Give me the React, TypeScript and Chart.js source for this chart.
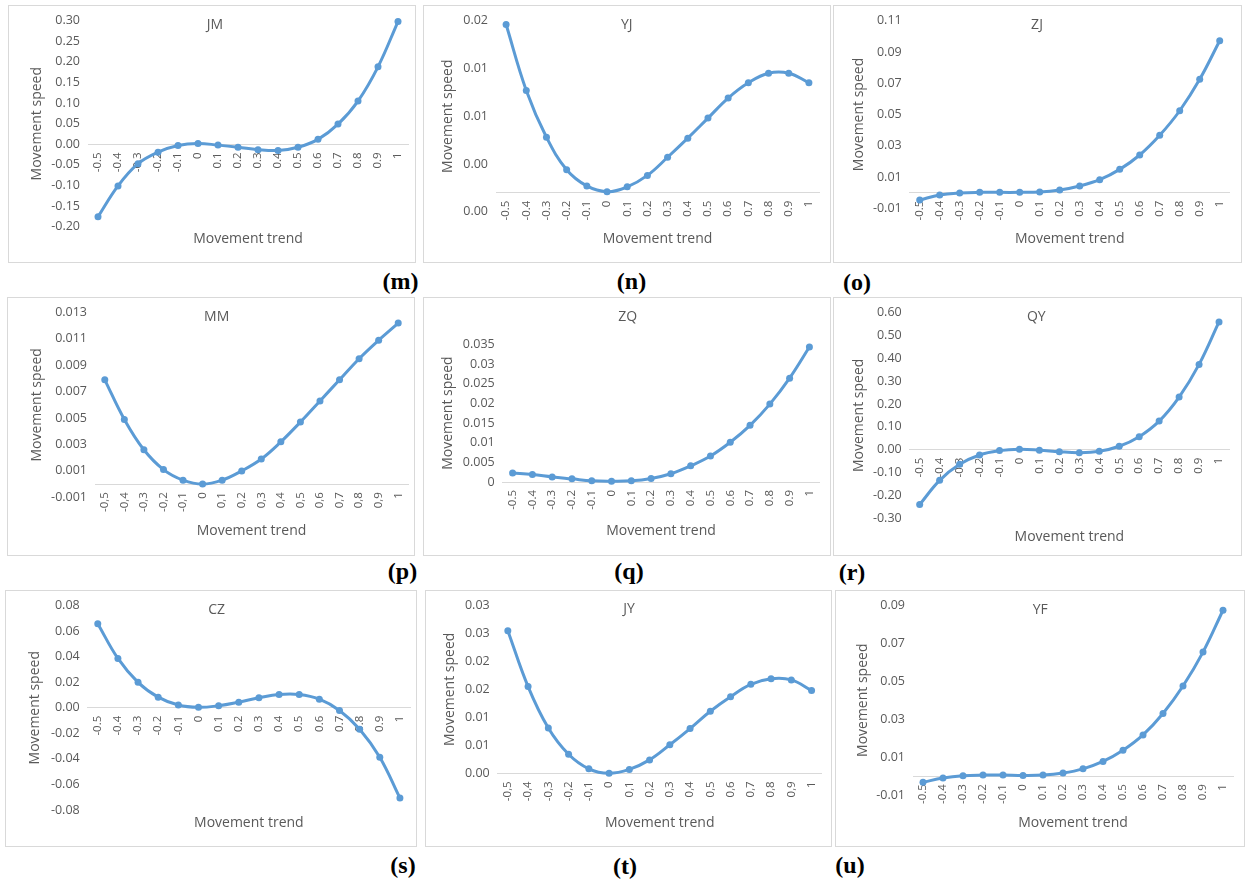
import React, { useEffect, useRef } from "react";
import { Chart, registerables } from "chart.js";

Chart.register(...registerables);

// ---------- data ----------
const trendLabels = ["-0.5", "-0.4", "-0.3", "-0.2", "-0.1", "0", "0.1", "0.2", "0.3", "0.4", "0.5", "0.6", "0.7", "0.8", "0.9", "1"];
// MM and JY panels were exported with a comma decimal separator
const trendLabelsComma = ["-0,5", "-0,4", "-0,3", "-0,2", "-0,1", "0", "0,1", "0,2", "0,3", "0,4", "0,5", "0,6", "0,7", "0,8", "0,9", "1"];

const jmSpeed = [-0.176, -0.101, -0.047, -0.019, -0.003, 0.002, -0.002, -0.007, -0.013, -0.015, -0.007, 0.012, 0.049, 0.105, 0.188, 0.298];
const yjSpeed = [0.0176, 0.0107, 0.0058, 0.0024, 0.0007, 0.0001, 0.0006, 0.0018, 0.0037, 0.0057, 0.0078, 0.0099, 0.0115, 0.0125, 0.0125, 0.0115];
const zjSpeed = [-0.0047, -0.0015, -0.0002, 0.0002, 0.0002, 0.0002, 0.0004, 0.0017, 0.0043, 0.0083, 0.0149, 0.0241, 0.0367, 0.0524, 0.0725, 0.0972];
const mmSpeed = [0.0079, 0.0049, 0.0026, 0.0011, 0.0003, 0.0, 0.0003, 0.001, 0.0019, 0.0032, 0.0047, 0.0063, 0.0079, 0.0095, 0.0109, 0.0122];
const zqSpeed = [0.0023, 0.0019, 0.0013, 0.0008, 0.0003, 0.0002, 0.0003, 0.0009, 0.0021, 0.0041, 0.0066, 0.0101, 0.0144, 0.0198, 0.0264, 0.0343];
const qySpeed = [-0.24, -0.134, -0.064, -0.023, -0.004, 0.002, -0.002, -0.009, -0.013, -0.007, 0.015, 0.057, 0.125, 0.23, 0.373, 0.559];
const czSpeed = [0.0658, 0.0386, 0.0199, 0.0083, 0.0021, 0.0003, 0.0016, 0.0044, 0.0078, 0.0104, 0.0104, 0.0067, -0.0021, -0.0168, -0.0388, -0.0707];
const jySpeed = [0.0255, 0.0155, 0.0081, 0.0034, 0.0008, 0.0, 0.0007, 0.0024, 0.0051, 0.008, 0.0111, 0.0137, 0.0159, 0.0169, 0.0167, 0.0148];
const yfSpeed = [-0.0033, -0.001, 0.0002, 0.0005, 0.0005, 0.0003, 0.0005, 0.0016, 0.0038, 0.0077, 0.0136, 0.0217, 0.033, 0.0475, 0.0654, 0.0875];

// y tick labels, bottom to top
const jmYTicks = ["-0.20", "-0.15", "-0.10", "-0.05", "0.00", "0.05", "0.10", "0.15", "0.20", "0.25", "0.30"];
const yjYTicks = ["0.00", "0.00", "0.01", "0.01", "0.02"];
const zjYTicks = ["-0.01", "0.01", "0.03", "0.05", "0.07", "0.09", "0.11"];
const mmYTicks = ["-0.001", "0.001", "0.003", "0.005", "0.007", "0.009", "0.011", "0.013"];
const zqYTicks = ["0", "0.005", "0.01", "0.015", "0.02", "0.025", "0.03", "0.035"];
const qyYTicks = ["-0.30", "-0.20", "-0.10", "0.00", "0.10", "0.20", "0.30", "0.40", "0.50", "0.60"];
const czYTicks = ["-0.08", "-0.06", "-0.04", "-0.02", "0.00", "0.02", "0.04", "0.06", "0.08"];
const jyYTicks = ["0.00", "0.01", "0.01", "0.02", "0.02", "0.03", "0.03"];
const yfYTicks = ["-0.01", "0.01", "0.03", "0.05", "0.07", "0.09"];

// y ranges [min, max, step]
const jmRange = [-0.2, 0.3, 0.05];
const yjRange = [-0.002, 0.018, 0.005];
const zjRange = [-0.01, 0.11, 0.02];
const mmRange = [-0.001, 0.013, 0.002];
const zqRange = [0, 0.035, 0.005];
const qyRange = [-0.3, 0.6, 0.1];
const czRange = [-0.08, 0.08, 0.02];
const jyRange = [0, 0.03, 0.005];
const yfRange = [-0.01, 0.09, 0.02];

const panelTitles = ["JM", "YJ", "ZJ", "MM", "ZQ", "QY", "CZ", "JY", "YF"];
const panelLetters = ["(m)", "(n)", "(o)", "(p)", "(q)", "(r)", "(s)", "(t)", "(u)"];
const xAxisTitle = "Movement trend";
const yAxisTitle = "Movement speed";

// ---------- styling / layout ----------
const FONT = "'Open Sans', 'DejaVu Sans', sans-serif";
const TEXT = "#595959";
const BLUE = "#5B9BD5";
const AXIS = "#d9d9d9";
const TITLE_SIZE = 14;
const AXIS_TITLE_SIZE = 14;
const YTICK_SIZE = 12.5;
const XTICK_SIZE = 11.5;

type Layout = {
  box: number[]; // x, y, w, h (page px)
  plot: number[]; // left, top, right, bottom (page px)
  titleAt: number[];
  yTitleX: number;
  xTitleY: number;
  letterAt: number[];
};

const layouts: Layout[] = [
  { box: [8, 5, 408, 258], plot: [88, 20.7, 408, 226.7], titleAt: [215, 25], yTitleX: 36.7, xTitleY: 239.3, letterAt: [400.5, 281] },
  { box: [423, 5, 408, 258], plot: [496, 20.7, 819, 211.7], titleAt: [626.7, 25], yTitleX: 448.3, xTitleY: 239.3, letterAt: [631.5, 281] },
  { box: [833, 5, 409, 258], plot: [909.7, 20.7, 1229.7, 208.3], titleAt: [1037, 25], yTitleX: 858.7, xTitleY: 239.3, letterAt: [857, 282] },
  { box: [7, 297, 408, 259], plot: [95, 311.7, 408, 497.3], titleAt: [216.7, 316.7], yTitleX: 36.7, xTitleY: 530.7, letterAt: [402.5, 571] },
  { box: [423, 297, 408, 259], plot: [502.7, 344.3, 819.3, 482], titleAt: [627.7, 316.7], yTitleX: 447.7, xTitleY: 530.7, letterAt: [629, 571] },
  { box: [833, 297, 409, 259], plot: [909.7, 312.3, 1229, 518.3], titleAt: [1036.3, 316.7], yTitleX: 858.7, xTitleY: 536.7, letterAt: [852, 572] },
  { box: [5, 590, 412, 257], plot: [87.7, 604, 410, 810], titleAt: [216.7, 608.3], yTitleX: 35, xTitleY: 822.7, letterAt: [403, 865] },
  { box: [425, 590, 407, 257], plot: [497.7, 605, 821.7, 773.3], titleAt: [629, 608.3], yTitleX: 450, xTitleY: 822.7, letterAt: [625, 866] },
  { box: [835, 590, 410, 257], plot: [913, 603.3, 1233, 795], titleAt: [1040.3, 608.3], yTitleX: 863, xTitleY: 822.7, letterAt: [850, 865] },
];

const seriesList = [jmSpeed, yjSpeed, zjSpeed, mmSpeed, zqSpeed, qySpeed, czSpeed, jySpeed, yfSpeed];
const tickList = [jmYTicks, yjYTicks, zjYTicks, mmYTicks, zqYTicks, qyYTicks, czYTicks, jyYTicks, yfYTicks];
const rangeList = [jmRange, yjRange, zjRange, mmRange, zqRange, qyRange, czRange, jyRange, yfRange];
const categoryList = [trendLabels, trendLabels, trendLabels, trendLabelsComma, trendLabels, trendLabels, trendLabels, trendLabelsComma, trendLabels];

function Panel({ idx }: { idx: number }) {
  const ref = useRef<HTMLCanvasElement | null>(null);
  const lay = layouts[idx];
  const [bx, by, W, H] = lay.box;

  useEffect(() => {
    if (!ref.current) return;
    const [pl, pt, pr, pb] = lay.plot;
    const cl = pl - bx, ct = pt - by, cr = pr - bx, cb = pb - by;
    const tx = lay.titleAt[0] - bx, ty = lay.titleAt[1] - by;
    const padRight = W - cr;
    const padLeft = 2 * tx - W + padRight;
    const yWidth = cl - padLeft;
    const lhT = TITLE_SIZE * 1.2;
    const titleTop = ty - lhT / 2;
    const titleBottom = ct - lhT - titleTop;
    const x2Height = H - cb;
    const lhA = AXIS_TITLE_SIZE * 1.2;
    const yTitlePad = lay.yTitleX - bx - padLeft - lhA / 2;
    const xTitlePad = H - (lay.xTitleY - by) - lhA / 2;
    const [yMin, yMax, yStep] = rangeList[idx];
    const yTicks = tickList[idx];

    const chart = new Chart(ref.current, {
      type: "line",
      data: {
        labels: categoryList[idx],
        datasets: [
          {
            data: seriesList[idx],
            borderColor: BLUE,
            backgroundColor: BLUE,
            borderWidth: 3,
            pointRadius: 3.5,
            pointBorderWidth: 0,
            pointBackgroundColor: BLUE,
            tension: 0.4,
            clip: false as any,
          },
        ],
      },
      options: {
        responsive: false,
        animation: false,
        layout: { padding: { left: padLeft, right: padRight, top: 0, bottom: 0 } },
        plugins: {
          legend: { display: false },
          tooltip: { enabled: false },
          title: {
            display: true,
            text: panelTitles[idx],
            color: TEXT,
            font: { family: FONT, size: TITLE_SIZE, weight: "normal" },
            padding: { top: titleTop, bottom: titleBottom },
          },
        },
        scales: {
          x: {
            type: "category",
            position: { y: 0 } as any,
            offset: true,
            grid: { display: false, drawTicks: false, tickLength: 0 },
            border: { display: true, color: AXIS, width: 1, z: -1 },
            ticks: {
              autoSkip: false,
              maxRotation: 90,
              minRotation: 90,
              padding: 8,
              color: TEXT,
              font: { family: FONT, size: XTICK_SIZE },
            },
            afterFit: (s: any) => {
              s.paddingLeft = 0;
              s.paddingRight = 0;
            },
          },
          x2: {
            type: "category",
            position: "bottom",
            offset: true,
            grid: { display: false, drawTicks: false, tickLength: 0 },
            border: { display: false },
            ticks: { display: false },
            title: {
              display: true,
              text: xAxisTitle,
              color: TEXT,
              font: { family: FONT, size: AXIS_TITLE_SIZE },
              padding: { top: 0, bottom: xTitlePad },
            },
            afterFit: (s: any) => {
              s.height = x2Height;
            },
          },
          y: {
            type: "linear",
            position: "left",
            min: yMin,
            max: yMax,
            grid: { display: false, drawTicks: false, tickLength: 0 },
            border: { display: false },
            ticks: {
              stepSize: yStep,
              autoSkip: false,
              padding: 8,
              color: TEXT,
              font: { family: FONT, size: YTICK_SIZE },
              callback: (_v: any, i: number) => (yTicks[i] !== undefined ? yTicks[i] : ""),
            },
            title: {
              display: true,
              text: yAxisTitle,
              color: TEXT,
              font: { family: FONT, size: AXIS_TITLE_SIZE },
              padding: { top: yTitlePad, bottom: 0 },
            },
            afterFit: (s: any) => {
              s.width = yWidth;
            },
          },
        },
      } as any,
    });
    return () => chart.destroy();
  }, [idx]);

  return (
    <div
      style={{
        position: "absolute",
        left: bx,
        top: by,
        width: W,
        height: H,
        boxShadow: `inset 0 0 0 1px ${AXIS}`,
      }}
    >
      <canvas ref={ref} width={W} height={H} style={{ display: "block", width: W, height: H }} />
    </div>
  );
}

export default function App() {
  return (
    <div style={{ position: "absolute", left: 0, top: 0, width: 1249, height: 884, background: "#fff", overflow: "hidden" }}>
      {layouts.map((_, i) => (
        <Panel key={i} idx={i} />
      ))}
      {layouts.map((l, i) => (
        <div
          key={"l" + i}
          style={{
            position: "absolute",
            left: l.letterAt[0],
            top: l.letterAt[1],
            transform: "translate(-50%, -50%)",
            fontFamily: "'Liberation Serif', 'Times New Roman', serif",
            fontWeight: "bold",
            fontSize: 24,
            lineHeight: 1,
            whiteSpace: "nowrap",
            color: "#000",
          }}
        >
          {panelLetters[i]}
        </div>
      ))}
    </div>
  );
}
